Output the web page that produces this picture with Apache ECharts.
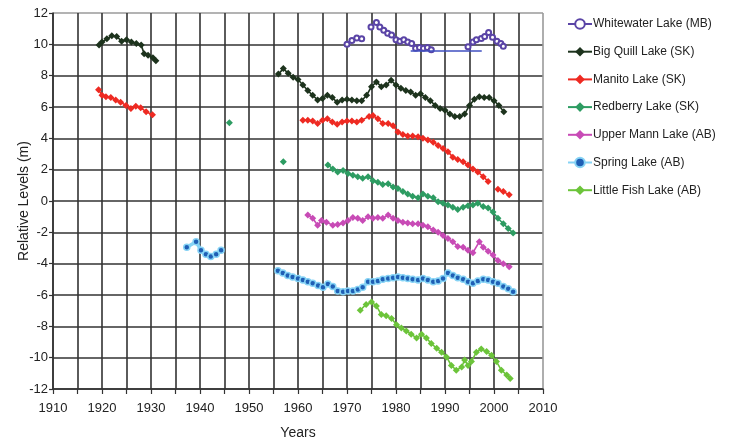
<!DOCTYPE html>
<html>
<head>
<meta charset="utf-8">
<script src="https://cdn.jsdelivr.net/npm/echarts@6/dist/echarts.min.js"></script>
<style>
html,body{margin:0;padding:0;background:#fff;overflow:hidden;}
#chart{width:730px;height:444px;}
</style>
</head>
<body>
<div id="chart"></div>
<script>
// ---- data (years, relative levels in m); null = gap ----
var seriesNames = ['Whitewater Lake (MB)','Big Quill Lake (SK)','Manito Lake (SK)','Redberry Lake (SK)','Upper Mann Lake (AB)','Spring Lake (AB)','Little Fish Lake (AB)'];

var whitewaterYears  = [1970,1971,1972,1973,1974,1974.9,1976,1976.7,1977.5,1978.3,1979.1,1980,1980.8,1981.6,1982.4,1983.2,1984,1984.8,1985.6,1986.4,1987.2,1990,1994.7,1995.7,1996.4,1997.4,1998.1,1998.9,1999.7,2000.6,2001.4,2001.9];
var whitewaterLevels = [10.0,10.25,10.4,10.35,null,11.1,11.4,11.1,10.9,10.7,10.6,10.3,10.2,10.3,10.15,10.05,9.75,9.8,9.75,9.8,9.65,null,9.85,10.15,10.3,10.37,10.5,10.75,10.45,10.2,10.05,9.87];
var whitewaterFlatYears  = [1983, 1997.5];
var whitewaterFlatLevel  = 9.6;

var bigQuillYears  = [1919.4,1920,1921,1922,1923,1924,1925,1926,1927,1928,1928.6,1929.4,1930.4,1931,1940,1956,1957,1958,1959,1960,1961,1962,1963,1964,1965,1966,1967,1968,1969,1970,1971,1972,1973,1974,1975,1976,1977,1978,1979,1980,1981,1982,1983,1984,1985,1986,1987,1988,1989,1990,1991,1992,1993,1994,1995,1996,1997,1998,1999,2000,2001,2002];
var bigQuillLevels = [9.95,10.15,10.35,10.55,10.5,10.2,10.3,10.15,10.05,9.95,9.4,9.3,9.15,8.95,null,8.1,8.45,8.15,7.9,7.75,7.4,7.05,6.75,6.45,6.55,6.75,6.6,6.3,6.45,6.5,6.45,6.4,6.4,6.75,7.3,7.6,7.3,7.4,7.7,7.4,7.2,7.05,6.95,6.75,6.85,6.6,6.4,6.1,5.9,5.8,5.55,5.4,5.4,5.55,6.1,6.5,6.65,6.6,6.6,6.4,6.1,5.7];

var manitoYears  = [1919.3,1920,1920.8,1921.8,1922.8,1923.8,1924.9,1925.9,1926.9,1927.9,1929,1930.3,1945,1961,1962,1963,1964,1965,1966,1967,1968,1969,1970,1971,1972,1973,1974.5,1975.3,1976.3,1977.3,1978.4,1979.4,1980.4,1981.4,1982.4,1983.4,1984.5,1985.5,1986.5,1987.6,1988.6,1989.6,1990.6,1991.6,1992.6,1993.7,1994.7,1995.7,1996.7,1997.8,1998.8,1999.8,2000.8,2001.9,2003.1];
var manitoLevels = [7.1,6.75,6.65,6.6,6.45,6.3,6.1,5.9,6.05,5.95,5.7,5.5,null,5.15,5.15,5.1,4.95,5.15,5.25,5.05,4.9,5.05,5.1,5.1,5.05,5.15,5.4,5.45,5.25,4.95,4.95,4.8,4.4,4.25,4.15,4.15,4.1,4.0,3.9,3.75,3.55,3.35,3.15,2.8,2.65,2.5,2.3,2.05,1.85,1.55,1.25,null,0.75,0.6,0.4];

var redberryYears  = [1946,1950,1957,1961,1966.1,1967.1,1968.1,1969.2,1970.2,1971.2,1972.2,1973.2,1974.3,1975.3,1976.3,1977.3,1978.4,1979.4,1980.4,1981.4,1982.4,1983.4,1984.5,1985.5,1986.5,1987.6,1988.6,1989.6,1990.6,1991.6,1992.6,1993.7,1994.7,1995.7,1996.7,1997.8,1998.8,1999.8,2000.8,2001.9,2002.9,2003.9];
var redberryLevels = [5.0,null,2.5,null,2.3,2.05,1.85,1.95,1.75,1.65,1.55,1.45,1.55,1.3,1.2,1.05,1.1,0.9,0.8,0.6,0.45,0.3,0.2,0.45,0.3,0.2,-0.05,-0.15,-0.25,-0.4,-0.55,-0.4,-0.3,-0.25,-0.15,-0.35,-0.45,-0.7,-1.1,-1.45,-1.75,-2.05];

var upperMannYears  = [1962,1963,1964,1964.8,1965.8,1967.1,1968.1,1969.2,1970.2,1971.2,1972.2,1973.2,1974.3,1975.3,1976.3,1977.3,1978.4,1979.4,1980.4,1981.4,1982.4,1983.4,1984.5,1985.5,1986.5,1987.6,1988.6,1989.6,1990.6,1991.6,1992.6,1993.7,1994.7,1995.7,1997,1997.8,1998.8,1999.8,2000.8,2001.9,2003.1];
var upperMannLevels = [-0.9,-1.1,-1.55,-1.25,-1.35,-1.55,-1.5,-1.4,-1.25,-1.05,-1.1,-1.25,-1.0,-1.1,-1.05,-1.1,-0.9,-1.1,-1.25,-1.35,-1.4,-1.45,-1.45,-1.55,-1.65,-1.85,-2.0,-2.2,-2.4,-2.6,-2.9,-2.95,-3.15,-3.3,-2.6,-2.95,-3.2,-3.45,-3.8,-4.0,-4.2];

var springYears  = [1937.3,1939.2,1940.2,1941.2,1942.2,1943.3,1944.3,1950,1955.9,1956.9,1957.9,1958.9,1960,1961,1962,1963,1964.1,1965.1,1966.1,1967.1,1968.1,1969.2,1970.2,1971.2,1972.2,1973.2,1974.3,1975.3,1976.3,1977.3,1978.4,1979.4,1980.4,1981.4,1982.4,1983.4,1984.5,1985.5,1986.5,1987.6,1988.6,1989.6,1990.6,1991.6,1992.6,1993.7,1994.7,1995.7,1996.7,1997.8,1998.8,1999.8,2000.8,2001.9,2002.9,2003.9];
var springLevels = [-2.95,-2.6,-3.15,-3.4,-3.55,-3.4,-3.15,null,-4.45,-4.6,-4.75,-4.85,-4.95,-5.05,-5.15,-5.25,-5.4,-5.5,-5.3,-5.45,-5.75,-5.8,-5.75,-5.75,-5.65,-5.5,-5.15,-5.15,-5.1,-5.0,-4.95,-4.9,-4.85,-4.9,-4.95,-5.0,-5.05,-4.95,-5.05,-5.15,-5.1,-4.95,-4.6,-4.75,-4.9,-5.0,-5.15,-5.25,-5.1,-5.0,-5.05,-5.15,-5.25,-5.45,-5.6,-5.8];

var littleFishYears  = [1972.7,1973.9,1975,1976,1977,1978,1979.1,1980.1,1981.1,1982.1,1983.1,1984.2,1985.2,1986.2,1987.2,1988.3,1989.3,1990.3,1991.3,1992.3,1993.4,1994,1994.7,1995.4,1996.4,1997.4,1998.5,1999.5,2000.5,2001.5,2002.6,2003.3];
var littleFishLevels = [-6.97,-6.6,-6.45,-6.7,-7.25,-7.33,-7.5,-7.9,-8.1,-8.3,-8.5,-8.75,-8.5,-8.75,-9.1,-9.4,-9.65,-9.95,-10.5,-10.8,-10.6,-10.15,-10.5,-10.25,-9.65,-9.45,-9.6,-9.85,-10.25,-10.8,-11.1,-11.33];

var xTicks = {min:1910, max:2010, step:5, labelStep:10};
var yTicks = {min:-12, max:12, step:2};

// ---- build ----
function pairs(ys, vs){
  return ys.map(function(y,i){ return [y, vs[i] === null ? '-' : vs[i]]; });
}
function repeatColors(n, main, last){
  var a=[]; for(var i=0;i<n;i++){ a.push(i===n-1?last:main); } return a;
}
var nx = (xTicks.max - xTicks.min)/xTicks.step + 1;
var ny = (yTicks.max - yTicks.min)/yTicks.step + 1;

var colors = ['#5a44a6','#1d331d','#ee2a22','#2d9c62','#c84bb6','#2266bb','#6cc43a'];

function lineSeries(name, data, color, extra){
  var s = {
    name: name, type:'line', data:data,
    symbol:'diamond', symbolSize:7,
    connectNulls:false,
    lineStyle:{color:color, width:1.6},
    itemStyle:{color:color},
    emphasis:{disabled:true},
    z:3
  };
  for (var k in extra) s[k]=extra[k];
  return s;
}

var series = [
  lineSeries(seriesNames[0], pairs(whitewaterYears, whitewaterLevels), colors[0], {
    symbol:'emptyCircle', symbolSize:5,
    lineStyle:{color:colors[0], width:1},
    itemStyle:{color:colors[0], borderWidth:1.2},
    markLine:{
      silent:true, symbol:['none','none'], label:{show:false},
      lineStyle:{color:'#3f4fc0', width:1.5, type:'solid'},
      data:[[{coord:[whitewaterFlatYears[0], whitewaterFlatLevel]},{coord:[whitewaterFlatYears[1], whitewaterFlatLevel]}]]
    }
  }),
  lineSeries(seriesNames[1], pairs(bigQuillYears, bigQuillLevels), colors[1], {}),
  lineSeries(seriesNames[2], pairs(manitoYears, manitoLevels), colors[2], {}),
  lineSeries(seriesNames[3], pairs(redberryYears, redberryLevels), colors[3], {}),
  lineSeries(seriesNames[4], pairs(upperMannYears, upperMannLevels), colors[4], {}),
  lineSeries(seriesNames[5], pairs(springYears, springLevels), colors[5], {
    symbol:'circle', symbolSize:6,
    lineStyle:{color:'#86d3f5', width:3.5},
    itemStyle:{color:'#1f5fb5', borderColor:'#86d3f5', borderWidth:1.5}
  }),
  lineSeries(seriesNames[6], pairs(littleFishYears, littleFishLevels), colors[6], {})
];

var chart = echarts.init(document.getElementById('chart'), null, {renderer:'canvas', width:730, height:444});
chart.setOption({
  animation:false,
  backgroundColor:'#ffffff',
  textStyle:{fontFamily:'"Liberation Sans", Arial, Helvetica, sans-serif'},
  grid:{left:53, top:13, width:490, height:376, containLabel:false, outerBoundsMode:'none'},
  legend:{
    data:seriesNames,
    orient:'vertical',
    left:562, top:13,
    itemWidth:24, itemHeight:12,
    itemGap:15.7,
    textStyle:{fontSize:12, color:'#222', padding:[0,0,0,-4]},
    selectedMode:false
  },
  xAxis:{
    type:'value', min:xTicks.min, max:xTicks.max, interval:xTicks.step,
    name:'Years', nameLocation:'middle', nameGap:37,
    nameMoveOverlap:false,
    nameTextStyle:{fontSize:14, color:'#222'},
    axisLine:{onZero:false, lineStyle:{color:'#333', width:1.5}},
    axisTick:{show:true, length:5, inside:false, lineStyle:{color:'#333', width:1.2}},
    axisLabel:{fontSize:13, color:'#222', margin:13,
      formatter:function(v){ return (v % xTicks.labelStep === 0) ? String(v) : ''; }},
    splitLine:{show:true, lineStyle:{color:repeatColors(nx,'#333333','#9a9a9a'), width:1.6}}
  },
  yAxis:{
    type:'value', min:yTicks.min, max:yTicks.max, interval:yTicks.step,
    name:'Relative Levels (m)', nameLocation:'middle', nameGap:22,
    nameMoveOverlap:false,
    nameTextStyle:{fontSize:14, color:'#222'},
    axisLine:{onZero:false, lineStyle:{color:'#333', width:1.5}},
    axisTick:{show:true, length:4, inside:false, lineStyle:{color:'#333', width:1.2}},
    axisLabel:{fontSize:13, color:'#222', margin:5},
    splitLine:{show:true, lineStyle:{color:repeatColors(ny,'#333333','#9a9a9a'), width:1.6}}
  },
  series:series
});
</script>
</body>
</html>
